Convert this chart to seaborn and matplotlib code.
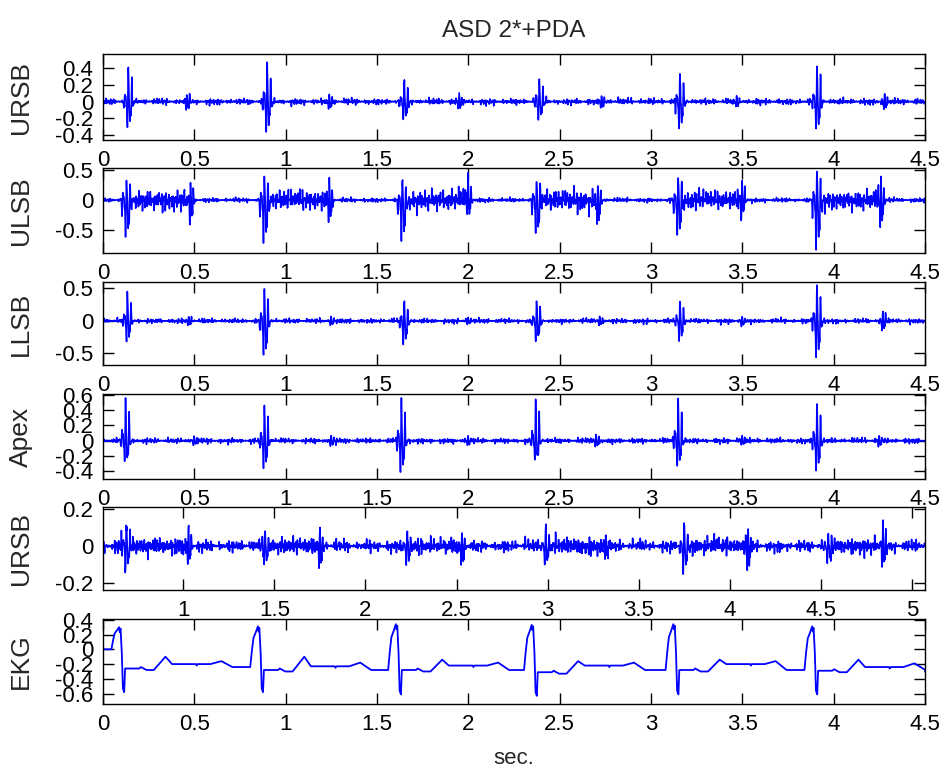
import numpy as np
import pandas as pd
import matplotlib
matplotlib.use("Agg")
import matplotlib.pyplot as plt
import seaborn as sns

# ---------------- data ----------------
title = "ASD 2*+PDA"
xlabel = "sec."
panel_names = ["URSB", "ULSB", "LLSB", "Apex", "URSB", "EKG"]

# Panel 1 : URSB
p1_s1_t = [0.14, 0.90, 1.65, 2.39, 3.16, 3.91]
p1_s1_pos = [0.40, 0.47, 0.27, 0.27, 0.33, 0.43]
p1_s1_neg = [0.30, 0.36, 0.22, 0.22, 0.33, 0.33]
p1_s2_t = [0.46, 1.24, 1.95, 2.73, 3.47, 4.28]
p1_s2_amp = [0.10, 0.09, 0.08, 0.09, 0.08, 0.09]
p1_noise = 0.07

# Panel 2 : ULSB
p2_s1_t = [0.13, 0.885, 1.64, 2.375, 3.15, 3.91]
p2_s1_pos = [0.33, 0.38, 0.33, 0.33, 0.38, 0.45]
p2_s1_neg = [0.63, 0.72, 0.68, 0.58, 0.60, 0.80]
p2_s2_t = [0.48, 1.24, 2.00, 2.71, 3.50, 4.26]
p2_s2_pos = [0.30, 0.28, 0.45, 0.30, 0.33, 0.35]
p2_s2_neg = [0.40, 0.36, 0.30, 0.45, 0.25, 0.45]
p2_mur_start = [0.15, 0.90, 1.66, 2.39, 3.16, 3.92]
p2_mur_end = [0.50, 1.27, 2.03, 2.74, 3.53, 4.29]
p2_mur_amp = [0.30, 0.30, 0.30, 0.32, 0.30, 0.28]
p2_noise = 0.07

# Panel 3 : LLSB
p3_s1_t = [0.135, 0.885, 1.65, 2.375, 3.16, 3.91]
p3_s1_pos = [0.42, 0.50, 0.30, 0.30, 0.30, 0.55]
p3_s1_neg = [0.30, 0.55, 0.36, 0.30, 0.30, 0.57]
p3_s2_t = [0.47, 1.25, 2.00, 2.72, 3.50, 4.27]
p3_s2_amp = [0.07, 0.07, 0.05, 0.07, 0.06, 0.15]
p3_noise = 0.07

# Panel 4 : Apex
p4_s1_t = [0.125, 0.885, 1.635, 2.37, 3.15, 3.91]
p4_s1_pos = [0.56, 0.46, 0.55, 0.54, 0.55, 0.48]
p4_s1_neg = [0.29, 0.36, 0.41, 0.25, 0.33, 0.39]
p4_s2_t = [0.50, 1.25, 2.00, 2.70, 3.50, 4.25]
p4_s2_amp = [0.06, 0.07, 0.06, 0.08, 0.06, 0.08]
p4_noise = 0.065

# Panel 5 : URSB (own time axis)
p5_s1_t = [0.69, 1.45, 2.23, 2.99, 3.75, 4.54]
p5_s1_pos = [0.11, 0.08, 0.08, 0.10, 0.12, 0.07]
p5_s1_neg = [0.13, 0.10, 0.10, 0.10, 0.14, 0.09]
p5_s2_t = [1.03, 1.75, 2.53, 3.32, 4.10, 4.84]
p5_s2_pos = [0.11, 0.10, 0.07, 0.05, 0.08, 0.13]
p5_s2_neg = [0.10, 0.12, 0.12, 0.08, 0.11, 0.11]
p5_mur_start = [0.60, 1.46, 2.24, 3.00, 3.76, 4.55]
p5_mur_end = [1.05, 1.78, 2.56, 3.35, 4.12, 4.87]
p5_mur_amp = [0.07, 0.07, 0.06, 0.07, 0.07, 0.07]
p5_noise = 0.06

# Panel 6 : EKG, per beat
ekg_start = 0.0
ekg_r_t = [0.088, 0.848, 1.603, 2.347, 3.122, 3.882]
ekg_r_v = [0.30, 0.31, 0.34, 0.33, 0.34, 0.31]
ekg_s_v = [-0.58, -0.58, -0.61, -0.63, -0.61, -0.61]
ekg_st_v = [-0.26, -0.28, -0.28, -0.31, -0.28, -0.29]
ekg_t_v = [-0.10, -0.10, -0.14, -0.16, -0.14, -0.14]
ekg_mid_v = [-0.20, -0.23, -0.22, -0.22, -0.20, -0.24]
ekg_p_v = [-0.16, -0.18, -0.18, -0.18, -0.16, -0.19]
ekg_end_v = [-0.24, -0.28, -0.28, -0.28, -0.28, -0.28]

# axis settings
xlims = [(0, 4.5)] * 4 + [(0.56, 5.07), (0, 4.5)]
xticks_main = [0, 0.5, 1, 1.5, 2, 2.5, 3, 3.5, 4, 4.5]
xticks_p5 = [1, 1.5, 2, 2.5, 3, 3.5, 4, 4.5, 5]
ylims = [(-0.46, 0.57), (-0.89, 0.54), (-0.68, 0.60), (-0.50, 0.61),
         (-0.237, 0.21), (-0.74, 0.41)]
yticks = [[-0.4, -0.2, 0, 0.2, 0.4], [-0.5, 0, 0.5], [-0.5, 0, 0.5],
          [-0.4, -0.2, 0, 0.2, 0.4, 0.6], [-0.2, 0, 0.2],
          [-0.6, -0.4, -0.2, 0, 0.2, 0.4]]

# ---------------- signal construction ----------------
FS = 1000


def texture(t, k, expo=1.6):
    ph = k * 1.37
    s = (np.sin(2 * np.pi * 71.3 * t + ph) + 0.8 * np.sin(2 * np.pi * 113.7 * t + 2 * ph)
         + 0.6 * np.sin(2 * np.pi * 167.9 * t + 3 * ph)
         + 0.5 * np.sin(2 * np.pi * 241.1 * t + 0.5 * ph)
         + 0.4 * np.sin(2 * np.pi * 307.7 * t + 1.7 * ph)) / 3.3
    return np.sign(s) * np.abs(s) ** expo


def gate(t, k):
    ph = k * 0.91
    g = 0.7 + 0.4 * np.sin(2 * np.pi * 6.7 * t + ph) + 0.35 * np.sin(2 * np.pi * 17.3 * t + 2 * ph)
    return np.clip(g, 0.15, 1)


def burst(t, t0, pos, neg, width, f):
    d = t - t0
    env = np.exp(-0.5 * (d / width) ** 2) * (1 + 0.6 * np.exp(-np.clip(d, 0, None) / 0.03) * (d > 0))
    osc = (np.cos(2 * np.pi * f * d) + 0.55 * np.cos(2 * np.pi * 1.83 * f * d + 0.9)
           + 0.35 * np.cos(2 * np.pi * 2.71 * f * d + 2.1))
    b = env * osc
    return np.where(b > 0, b * pos / b.max(), b * neg / (-b.min()))


def pcg(t, s1_t, s1_pos, s1_neg, s2_t, s2_pos, s2_neg, noise, k,
        mur_a=(), mur_b=(), mur_amp=(), s1_w=0.014):
    y = noise * texture(t, k) * gate(t, k)
    for a, b, m in zip(mur_a, mur_b, mur_amp):
        win = np.clip((t - a) / 0.03, 0, 1) * np.clip((b - t) / 0.03, 0, 1)
        y = y + m * texture(t * 1.13 + 0.2, k + 3, 1.9) * win
    for t0, p, n in zip(s1_t, s1_pos, s1_neg):
        y = y + burst(t, t0, p, n, s1_w, 55)
    for t0, p, n in zip(s2_t, s2_pos, s2_neg):
        y = y + burst(t, t0, p, n, 0.011, 68)
    return y


t_main = np.arange(0, 4.5, 1 / FS)
t_p5 = np.arange(0.56, 5.07, 1 / FS)

y1 = pcg(t_main, p1_s1_t, p1_s1_pos, p1_s1_neg, p1_s2_t, p1_s2_amp, p1_s2_amp, p1_noise, 1)
y2 = pcg(t_main, p2_s1_t, p2_s1_pos, p2_s1_neg, p2_s2_t, p2_s2_pos, p2_s2_neg, p2_noise, 2,
         p2_mur_start, p2_mur_end, p2_mur_amp, s1_w=0.016)
y3 = pcg(t_main, p3_s1_t, p3_s1_pos, p3_s1_neg, p3_s2_t, p3_s2_amp, p3_s2_amp, p3_noise, 3)
y4 = pcg(t_main, p4_s1_t, p4_s1_pos, p4_s1_neg, p4_s2_t, p4_s2_amp, p4_s2_amp, p4_noise, 4)
y5 = pcg(t_p5, p5_s1_t, p5_s1_pos, p5_s1_neg, p5_s2_t, p5_s2_pos, p5_s2_neg, p5_noise, 5,
         p5_mur_start, p5_mur_end, p5_mur_amp)

# EKG vertices
ekg_rel = np.array([-0.042, -0.033, -0.024, -0.012, 0, 0.004, 0.008, 0.015, 0.021, 0.028,
                    0.033, 0.11, 0.12, 0.15, 0.19, 0.254, 0.29, 0.42, 0.425, 0.43, 0.50,
                    0.56, 0.62])
ekg_time = [0.0]
ekg_val = [ekg_start]
for i, tr in enumerate(ekg_r_t):
    lp = ekg_start if i == 0 else ekg_end_v[i - 1]
    r, s, st, tw = ekg_r_v[i], ekg_s_v[i], ekg_st_v[i], ekg_t_v[i]
    m, p, e = ekg_mid_v[i], ekg_p_v[i], ekg_end_v[i]
    vals = [lp, lp + 0.4 * (r - lp), lp + 0.72 * (r - lp), lp + 0.85 * (r - lp), r,
            r - 0.07, r - 0.02, -0.05, s + 0.05, s, st, st, st + 0.02, st - 0.02,
            st - 0.02, tw, m, m, m - 0.02, m, m, p, e]
    ekg_time.extend(list(tr + ekg_rel))
    ekg_val.extend(vals)
ekg_time.append(4.5)
ekg_val.append(ekg_end_v[-1] - 0.02)

series = [(t_main, y1), (t_main, y2), (t_main, y3), (t_main, y4), (t_p5, y5),
          (np.array(ekg_time), np.array(ekg_val))]

# ---------------- drawing ----------------
sns.set_style("ticks")
plt.rcParams["font.family"] = ["Liberation Sans", "DejaVu Sans"]
plt.rcParams["axes.unicode_minus"] = False

W, H = 943, 771
fig = plt.figure(figsize=(W / 100, H / 100), dpi=100)
left_px, right_px = 103, 925
rows_px = [(54, 140), (168, 253), (282, 365), (394, 479), (507, 590), (619, 704)]


def fmt(v):
    return "%g" % v


axes = []
for i, ((top, bot), (tx, ty)) in enumerate(zip(rows_px, series)):
    ax = fig.add_axes([left_px / W, 1 - bot / H, (right_px - left_px) / W, (bot - top) / H])
    axes.append(ax)
    df = pd.DataFrame({"t": tx, "v": ty})
    sns.lineplot(data=df, x="t", y="v", ax=ax, color="#0000ff",
                 linewidth=1.3 if i == 5 else 1.15,
                 estimator=None, errorbar=None, sort=False)
    ax.set_xlim(*xlims[i])
    ax.set_ylim(*ylims[i])
    xt = xticks_p5 if i == 4 else xticks_main
    ax.set_xticks(xt)
    ax.set_xticklabels([fmt(v) for v in xt])
    ax.set_yticks(yticks[i])
    ax.set_yticklabels([fmt(v) for v in yticks[i]])
    ax.tick_params(axis="both", direction="in", length=8, width=1, top=True, right=True,
                   labelsize=16, colors="black")
    ax.tick_params(axis="x", pad=7.5)
    ax.tick_params(axis="y", pad=7)
    for sp in ax.spines.values():
        sp.set_visible(True)
        sp.set_linewidth(1.0)
        sp.set_color("black")
    ax.set_xlabel("")
    ax.set_ylabel(panel_names[i], fontsize=19, va="center")
    ax.yaxis.set_label_coords((21 - left_px) / (right_px - left_px), 0.5)
    ax.set_facecolor("white")

axes[0].set_title(title, fontsize=17.5, pad=12)
axes[-1].set_xlabel(xlabel, fontsize=16, va="center")
axes[-1].xaxis.set_label_coords(0.5, -(758 - 704) / (704 - 619))

fig.savefig("out.png", dpi=100, facecolor="white")
